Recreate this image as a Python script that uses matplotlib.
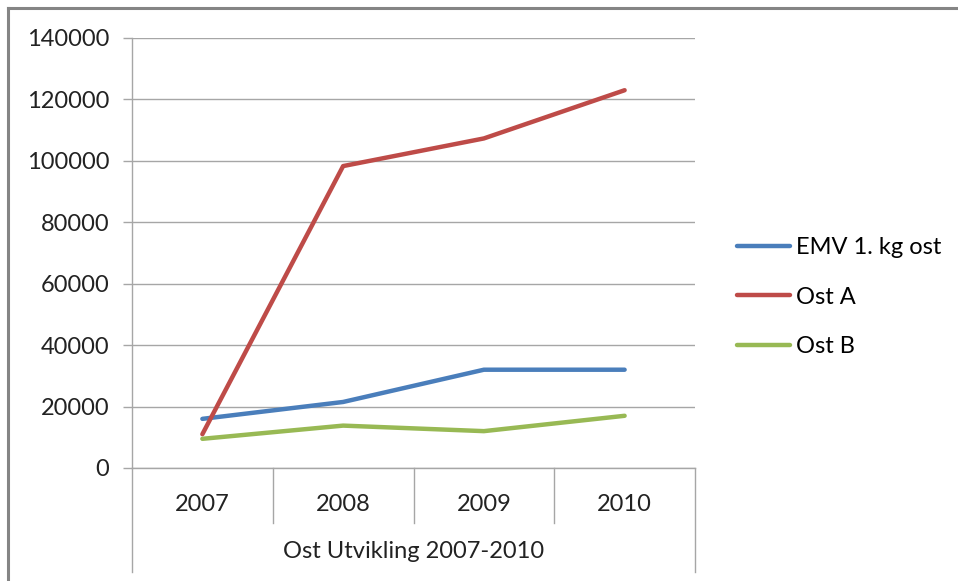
import matplotlib
matplotlib.use('Agg')
import matplotlib.pyplot as plt
from matplotlib.lines import Line2D

plt.rcParams['font.family'] = ['Lato', 'DejaVu Sans']

# data
years = ['2007', '2008', '2009', '2010']
emv = [16000, 21500, 32000, 32000]
ost_a = [11000, 98300, 107300, 123000]
ost_b = [9500, 13800, 12000, 17000]
group_label = 'Ost Utvikling 2007-2010'
yticks = [0, 20000, 40000, 60000, 80000, 100000, 120000, 140000]

W, H = 958, 581
fig = plt.figure(figsize=(W / 100, H / 100), dpi=100)

# plot area in pixel coords of the reference
x0, x1, ytop, ybot = 132, 695, 38, 468
ax = fig.add_axes([x0 / W, 1 - ybot / H, (x1 - x0) / W, (ybot - ytop) / H])

xs = [i + 0.5 for i in range(len(years))]
ax.plot(xs, emv, color='#4a7ebb', lw=3.2, solid_capstyle='round', solid_joinstyle='round', label='EMV 1. kg ost')
ax.plot(xs, ost_a, color='#be4b48', lw=3.2, solid_capstyle='round', solid_joinstyle='round', label='Ost A')
ax.plot(xs, ost_b, color='#98b954', lw=3.2, solid_capstyle='round', solid_joinstyle='round', label='Ost B')

ax.set_xlim(0, len(years))
ax.set_ylim(0, 140000)
ax.set_yticks(yticks)
ax.set_yticklabels([str(v) for v in yticks])
ax.set_xticks(xs)
ax.set_xticklabels(years)

grid_c = '#a6a6a6'
ax.yaxis.grid(True, color=grid_c, lw=1.0)
ax.set_axisbelow(True)
for s in ['top', 'right']:
    ax.spines[s].set_visible(False)
ax.spines['left'].set_color(grid_c)
ax.spines['bottom'].set_color(grid_c)
ax.spines['left'].set_linewidth(1.0)
ax.spines['bottom'].set_linewidth(1.0)
ax.tick_params(axis='y', length=6.5, width=1.0, color=grid_c, pad=10, labelsize=17, labelcolor='#222222')
ax.tick_params(axis='x', length=0, pad=19, labelsize=17, labelcolor='#222222')

# category separators and outer group lines below the axis
ah = ybot - ytop
sep_low = -(523 - ybot) / ah
out_low = -(572 - ybot) / ah
tr = ax.get_xaxis_transform()
for i in range(1, len(years)):
    ax.plot([i, i], [0, sep_low], transform=tr, color=grid_c, lw=1.0, clip_on=False)
for xv in [0, len(years)]:
    ax.plot([xv, xv], [0, out_low], transform=tr, color=grid_c, lw=1.0, clip_on=False)
ax.text(len(years) / 2, -(551 - ybot) / ah, group_label, transform=tr,
        ha='center', va='center', fontsize=17, color='#222222')

# legend
fig.legend(loc='center left', bbox_to_anchor=(737 / W, 1 - 297 / H), frameon=False,
           fontsize=17, handlelength=2.25, handletextpad=0.25, labelspacing=1.2,
           borderpad=0, borderaxespad=0)

# outer chart border (top and left only visible)
fig.add_artist(Line2D([8 / W, 1], [1 - 8 / H, 1 - 8 / H], transform=fig.transFigure, color='#858585', lw=2.2))
fig.add_artist(Line2D([8 / W, 8 / W], [0, 1 - 8 / H], transform=fig.transFigure, color='#858585', lw=2.2))

fig.savefig('out.png', dpi=100)
